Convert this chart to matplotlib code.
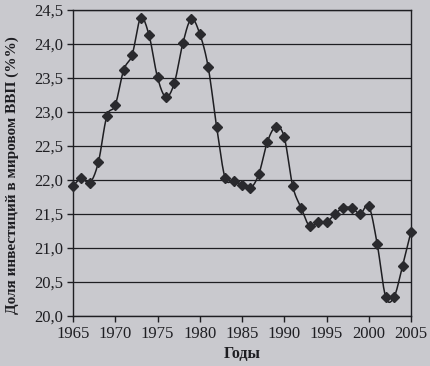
import numpy as np
import matplotlib
matplotlib.use("Agg")
import matplotlib.pyplot as plt
from matplotlib.ticker import FuncFormatter, MultipleLocator

years = list(range(1965, 2006))
share = [21.91, 22.03, 21.96, 22.26, 22.94, 23.10, 23.62, 23.84, 24.38, 24.13,
         23.51, 23.22, 23.43, 24.01, 24.37, 24.15, 23.66, 22.78, 22.03, 21.99,
         21.93, 21.88, 22.09, 22.56, 22.78, 22.63, 21.91, 21.59, 21.32, 21.38,
         21.38, 21.50, 21.59, 21.59, 21.50, 21.62, 21.06, 20.28, 20.28, 20.74,
         21.24]
xticks = [1965, 1970, 1975, 1980, 1985, 1990, 1995, 2000, 2005]
ylabel = "Доля инвестиций в мировом ВВП (%%)"
xlabel = "Годы"

bg = "#c9c9ce"
ink = "#1e1e22"
plt.rcParams['font.family'] = ['Liberation Serif', 'DejaVu Serif']


def catmull_rom(x, y, n=12):
    x = np.asarray(x, float)
    y = np.asarray(y, float)
    px = np.concatenate([[2*x[0]-x[1]], x, [2*x[-1]-x[-2]]])
    py = np.concatenate([[2*y[0]-y[1]], y, [2*y[-1]-y[-2]]])
    t = np.linspace(0, 1, n, endpoint=False)
    ox, oy = [], []
    for i in range(1, len(px) - 2):
        for P, out in ((px, ox), (py, oy)):
            p0, p1, p2, p3 = P[i-1], P[i], P[i+1], P[i+2]
            out.extend(0.5*((2*p1) + (-p0+p2)*t + (2*p0-5*p1+4*p2-p3)*t**2
                            + (-p0+3*p1-3*p2+p3)*t**3))
    ox.append(x[-1]); oy.append(y[-1])
    return np.array(ox), np.array(oy)


fig = plt.figure(figsize=(4.30, 3.66), dpi=100, facecolor=bg)
ax = fig.add_axes([73/430, 1 - 316/366, (411-73)/430, (316-10)/366])
ax.set_facecolor(bg)

ax.set_xlim(1965, 2005)
ax.set_ylim(20.0, 24.5)
ax.yaxis.set_major_locator(MultipleLocator(0.5))
ax.set_xticks(xticks)
ax.yaxis.set_major_formatter(FuncFormatter(lambda v, p: f"{v:.1f}".replace(".", ",")))
ax.grid(axis='y', color=ink, linewidth=0.9)
ax.set_axisbelow(True)

sx, sy = catmull_rom(years, share)
ax.plot(sx, sy, color=ink, linewidth=1.1, clip_on=False, zorder=3)
ax.plot(years, share, linestyle='none', marker='D', markersize=5.5,
        markerfacecolor='#2a2a2e', markeredgecolor='#2a2a2e', clip_on=False, zorder=4)

for s in ax.spines.values():
    s.set_color(ink)
    s.set_linewidth(1.0)

ax.tick_params(axis='both', colors=ink, labelsize=12, direction='out', length=4, width=1)
ax.tick_params(axis='x', pad=3)
ax.tick_params(axis='y', pad=3)
ax.set_xlabel(xlabel, fontsize=11.5, fontweight='bold', color=ink, labelpad=3)
ax.set_ylabel(ylabel, fontsize=11, fontweight='bold', color=ink)
ax.yaxis.set_label_coords(-0.16, 0.46)

fig.savefig("out.png", dpi=100, facecolor=bg)
